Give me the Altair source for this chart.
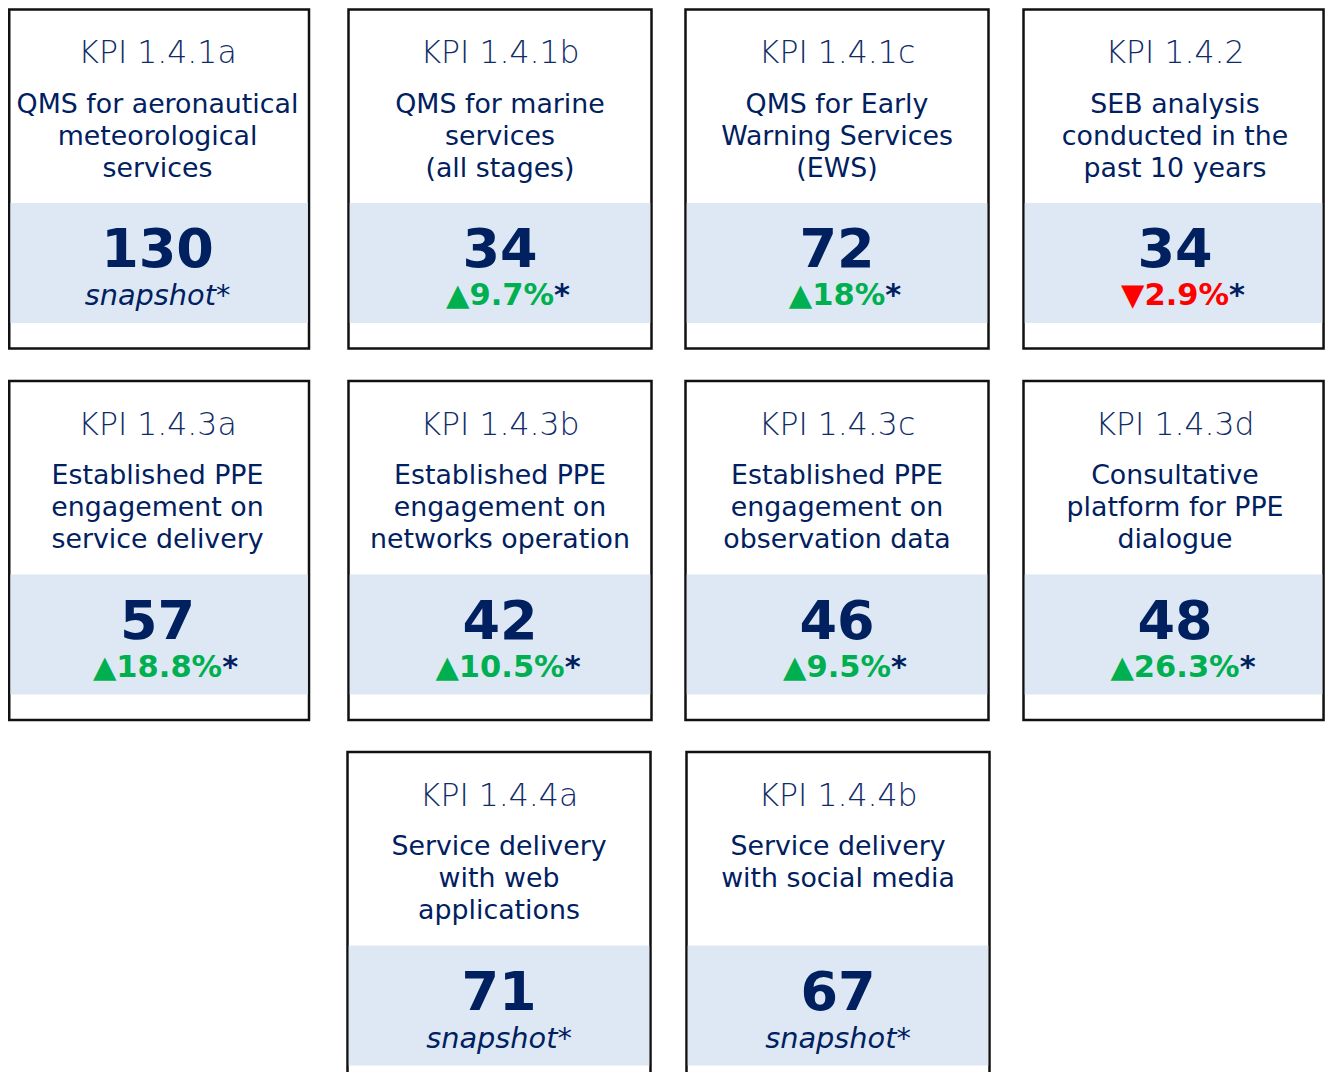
import altair as alt
import pandas as pd

# ---- data ----
kpi_codes = ["KPI 1.4.1a", "KPI 1.4.1b", "KPI 1.4.1c", "KPI 1.4.2",
             "KPI 1.4.3a", "KPI 1.4.3b", "KPI 1.4.3c", "KPI 1.4.3d",
             "KPI 1.4.4a", "KPI 1.4.4b"]
descriptions = [
    "QMS for aeronautical\nmeteorological\nservices",
    "QMS for marine\nservices\n(all stages)",
    "QMS for Early\nWarning Services\n(EWS)",
    "SEB analysis\nconducted in the\npast 10 years",
    "Established PPE\nengagement on\nservice delivery",
    "Established PPE\nengagement on\nnetworks operation",
    "Established PPE\nengagement on\nobservation data",
    "Consultative\nplatform for PPE\ndialogue",
    "Service delivery\nwith web\napplications",
    "Service delivery\nwith social media",
]
values = [130, 34, 72, 34, 57, 42, 46, 48, 71, 67]
# percentage change (None = snapshot only)
changes = [None, 9.7, 18, -2.9, 18.8, 10.5, 9.5, 26.3, None, None]

# ---- layout (grid of cards), in page pixels ----
row_of = [0, 0, 0, 0, 1, 1, 1, 1, 2, 2]
col_of = [0, 1, 2, 3, 0, 1, 2, 3, 0, 1]
row_tops = [9.5, 381, 752]
row_lefts = [[6, 348.5, 685.5, 1023.5], [6, 348.5, 685.5, 1023.5], [347.5, 686.5]]
CARD_W, CARD_H = 303, 339
X0, X1, Y0, Y1 = 8, 1325, 8, 1072          # visible page area of the chart
BORDER = 2.5

# DejaVu Sans Bold advance widths (em) for centring the two-colour line
W = {"0": .696, "1": .696, "2": .696, "3": .696, "4": .696, "5": .696, "6": .696,
     "7": .696, "8": .696, "9": .696, ".": .380, "%": 1.002, "▲": .770, "▼": .770}
STAR_W = .523
CH_SIZE = 30.5
SHIFT = 8

rows = []
for i in range(len(kpi_codes)):
    r, c = row_of[i], col_of[i]
    left = row_lefts[r][c]
    top = row_tops[r]
    right = left + CARD_W
    cx = (left + right) / 2
    ch = changes[i]
    if ch is None:
        green, direction, xg = "", "none", cx
    else:
        arrow = "▲" if ch >= 0 else "▼"
        green = f"{arrow}{abs(ch):g}%"
        direction = "up" if ch >= 0 else "down"
        wg = sum(W.get(ch_, .7) for ch_ in green) * CH_SIZE
        ws = STAR_W * CH_SIZE
        xg = cx + SHIFT - (wg + ws) / 2 + wg
    rl = max(left, X0 + BORDER / 2)
    rr = min(right, X1 - BORDER / 2 - 0.2)
    rows.append(dict(
        code=kpi_codes[i], desc=descriptions[i], value=str(values[i]),
        snap="snapshot*" if ch is None else "", green=green, star="*" if ch is not None else "",
        dir=direction, left=rl, right=rr, top=top, bottom=top + CARD_H,
        bl=rl + BORDER / 2, br=rr - BORDER / 2, bt=top + 193.5, bb=top + 313.5,
        cx=cx, xg=xg,
        y_title=top + 53.5, y_desc=top + 103, y_val=top + 257.5, y_sub=top + 295.5,
    ))
df = pd.DataFrame(rows)

X = alt.Scale(domain=[X0, X1], nice=False, zero=False)
Y = alt.Scale(domain=[Y0, Y1], nice=False, zero=False, reverse=True)
NAVY = "#002060"
FONT = "DejaVu Sans"

base = alt.Chart(df)

cards = base.mark_rect(fill="white", stroke="#111111", strokeWidth=BORDER, clip=True).encode(
    x=alt.X("left:Q", scale=X, axis=None), x2="right:Q",
    y=alt.Y("top:Q", scale=Y, axis=None), y2="bottom:Q")

bands = base.mark_rect(fill="#dde8f4", clip=True).encode(
    x=alt.X("bl:Q", scale=X, axis=None), x2="br:Q",
    y=alt.Y("bt:Q", scale=Y, axis=None), y2="bb:Q")

title = base.mark_text(font=FONT, fontSize=31.5, fontWeight=200, color="#0f2c68",
                       align="center", baseline="alphabetic").encode(
    x=alt.X("cx:Q", scale=X), y=alt.Y("y_title:Q", scale=Y), text="code:N")

desc = base.mark_text(font=FONT, fontSize=26.8, color=NAVY, align="center",
                      baseline="alphabetic", lineBreak="\n", lineHeight=32).encode(
    x=alt.X("cx:Q", scale=X), y=alt.Y("y_desc:Q", scale=Y), text="desc:N")

val = base.mark_text(font=FONT, fontSize=54, fontWeight="bold", color=NAVY,
                     align="center", baseline="alphabetic").encode(
    x=alt.X("cx:Q", scale=X), y=alt.Y("y_val:Q", scale=Y), text="value:N")

snap = base.mark_text(font=FONT, fontSize=28.8, fontStyle="italic", color=NAVY,
                      align="center", baseline="alphabetic").encode(
    x=alt.X("cx:Q", scale=X), y=alt.Y("y_sub:Q", scale=Y), text="snap:N")

chg = base.mark_text(font=FONT, fontSize=CH_SIZE, fontWeight="bold",
                     align="right", baseline="alphabetic").encode(
    x=alt.X("xg:Q", scale=X), y=alt.Y("y_sub:Q", scale=Y), text="green:N",
    color=alt.Color("dir:N", scale=alt.Scale(domain=["up", "down", "none"],
                                             range=["#00b050", "#ff0000", NAVY]), legend=None))

star = base.mark_text(font=FONT, fontSize=CH_SIZE, fontWeight="bold", color=NAVY,
                      align="left", baseline="alphabetic").encode(
    x=alt.X("xg:Q", scale=X), y=alt.Y("y_sub:Q", scale=Y), text="star:N")

chart = alt.layer(cards, bands, title, desc, val, snap, chg, star).properties(
    width=X1 - X0, height=Y1 - Y0, padding=0, autosize=alt.AutoSizeParams(type="none"),
    background="white"
).configure_view(stroke=None)

chart.save("out.html", embed_options={"renderer": "svg", "actions": False})
